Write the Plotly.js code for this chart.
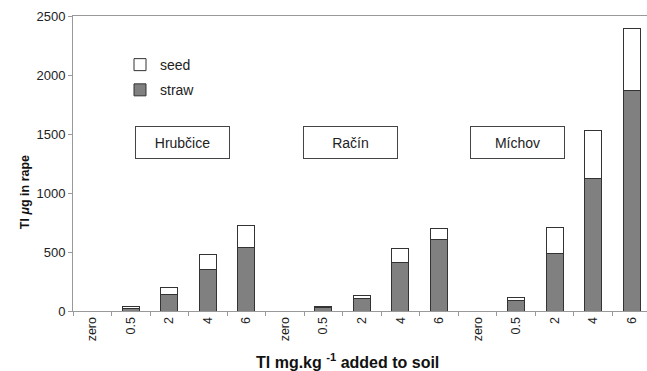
<!DOCTYPE html>
<html>
<head>
<meta charset="utf-8">
<script src="https://cdn.plot.ly/plotly-3.0.1.min.js"></script>
<style>html,body{margin:0;padding:0;overflow:hidden;background:#fff;}</style>
</head>
<body>
<div id="chart" style="width:647px;height:371px;"></div>
<script>
// ---- data ----
const sites = ["Hrubčice", "Račín", "Míchov"];
const doses = ["zero", "0.5", "2", "4", "6"];
const straw = [0, 25, 144, 355, 538,   0, 30, 102, 410, 602,   0, 90, 488, 1123, 1866];
const seed  = [0, 10, 54, 126, 183,    0, 12, 31, 122, 94,     0, 24, 216, 410, 529];
const yTicks = [0, 500, 1000, 1500, 2000, 2500];

// ---- build categories ----
const cats = [];
const catLabels = [];
sites.forEach(s => doses.forEach(d => { cats.push(s + " " + d); catLabels.push(d); }));

const font = "Liberation Sans, Arial, sans-serif";
const outline = {color: "#333333", width: 1};

const traces = [
  {type: "bar", name: "straw", x: cats, y: straw, width: 0.44,
   marker: {color: "#808080", line: outline}, legendgroup: "b", legendrank: 2},
  {type: "bar", name: "seed", x: cats, y: seed, width: 0.44,
   marker: {color: "#ffffff", line: outline}, legendgroup: "a", legendrank: 1}
];

const boxAnn = (txt, x) => ({
  text: txt, xref: "paper", yref: "paper", x: x, y: 0.5724,
  xanchor: "center", yanchor: "middle", showarrow: false,
  width: 93, height: 31, borderpad: 0, borderwidth: 1, bordercolor: "#444",
  bgcolor: "#fff", font: {family: font, size: 14, color: "#222"}
});

const layout = {
  width: 647, height: 371,
  margin: {l: 73, r: 0, t: 16, b: 60},
  paper_bgcolor: "#fff", plot_bgcolor: "#fff",
  barmode: "stack",
  bargap: 0,
  font: {family: font, size: 12, color: "#222"},
  showlegend: true,
  legend: {x: 0.0819, y: 0.888, xanchor: "left", yanchor: "top",
           traceorder: "grouped", tracegroupgap: 4,
           font: {family: font, size: 14, color: "#222"}, bgcolor: "rgba(0,0,0,0)"},
  xaxis: {type: "category", range: [-0.5, 14.4], tickvals: cats, ticktext: catLabels,
          tickangle: -90, ticks: "outside", tickson: "boundaries", ticklen: 4,
          tickcolor: "#999", showline: true, linecolor: "#999", linewidth: 1, mirror: true,
          showgrid: false, zeroline: false, tickfont: {family: font, size: 12.5, color: "#222"}},
  yaxis: {range: [0, 2500], tickvals: yTicks, ticks: "outside", ticklen: 4, tickcolor: "#999",
          showline: true, linecolor: "#999", linewidth: 1, showgrid: false, zeroline: false,
          tickfont: {family: font, size: 13, color: "#222"}},
  annotations: [
    boxAnn("Hrubčice", 0.1916),
    boxAnn("Račín", 0.4826),
    boxAnn("Míchov", 0.7744),
    {text: "<b>Tl <i>μ</i>g in rape</b>", xref: "paper", yref: "paper",
     x: (25 - 73) / 574, y: (310.7 - 192) / 294.7, textangle: -90,
     xanchor: "center", yanchor: "middle", showarrow: false,
     font: {family: font, size: 12.5, color: "#111"}},
    {text: "<b>Tl mg.kg <sup>-1</sup> added to soil</b>", xref: "paper", yref: "paper",
     x: (347 - 73) / 574, y: (310.7 - 361) / 294.7,
     xanchor: "center", yanchor: "middle", showarrow: false,
     font: {family: font, size: 16, color: "#111"}}
  ]
};

Plotly.newPlot("chart", traces, layout, {displayModeBar: false, staticPlot: true});
</script>
</body>
</html>
